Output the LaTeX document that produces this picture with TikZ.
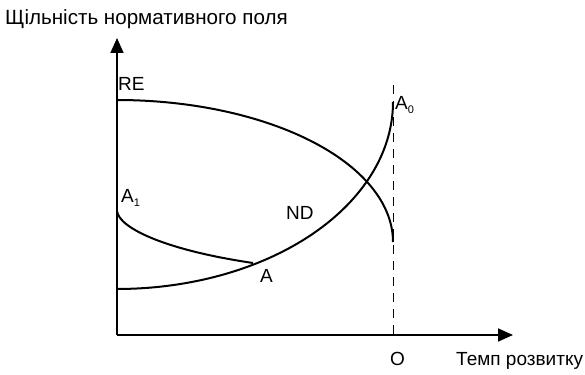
\documentclass[tikz,border=0pt]{standalone}
\usepackage{fontspec}
\setmainfont{Liberation Sans}
\usetikzlibrary{arrows.meta}
\begin{document}
\begin{tikzpicture}[x=1pt,y=-1pt,
  lbl/.style={anchor=base west,inner sep=0pt,font=\fontsize{19}{21}\selectfont},
  axis/.style={line width=1.7pt,-{Triangle[length=15pt,width=13pt]}},
  curve/.style={line width=2pt},
  guide/.style={line width=0.9pt,dash pattern=on 9pt off 7pt}]
\useasboundingbox (0,0) rectangle (585,374);
\newcommand{\sbs}[1]{\raisebox{-4pt}{\fontsize{11}{11}\selectfont #1}}
% axes
\coordinate (orig) at (117,335);
\coordinate (ytip) at (117,38);
\coordinate (xtip) at (513,335);
\draw[axis] (orig) -- (ytip);
\draw[axis] (orig) -- (xtip);
% dashed guide
\coordinate (dtop) at (393,85);
\coordinate (dbot) at (393,335);
\draw[guide] (dtop) -- (dbot);
% curves
\draw[curve] plot[domain=0:90,samples=80] ({117+276*sin(\x)},{242-142*cos(\x)});
\draw[curve] plot[domain=0:90,samples=80] ({117+276*sin(\x)},{102+187*cos(\x)});
\coordinate (a1) at (117,211);
\coordinate (a) at (253,263);
\draw[curve] (a1) .. controls (119,228) and (165,250) .. (a);
% labels
\node[lbl,font=\fontsize{20.6}{22}\selectfont] (title) at (5,25) {Щільність нормативного поля};
\node[lbl] (xlab) at (456,365) {Темп розвитку};
\node[lbl] (re) at (118,91) {RE};
\node[lbl] (la1) at (121,202) {A\sbs{1}};
\node[lbl] (la) at (260,282) {A};
\node[lbl] (nd) at (286,219) {ND};
\node[lbl] (la0) at (395,110) {A\sbs{0}};
\node[lbl] (lo) at (390,365) {O};
\end{tikzpicture}
\end{document}
